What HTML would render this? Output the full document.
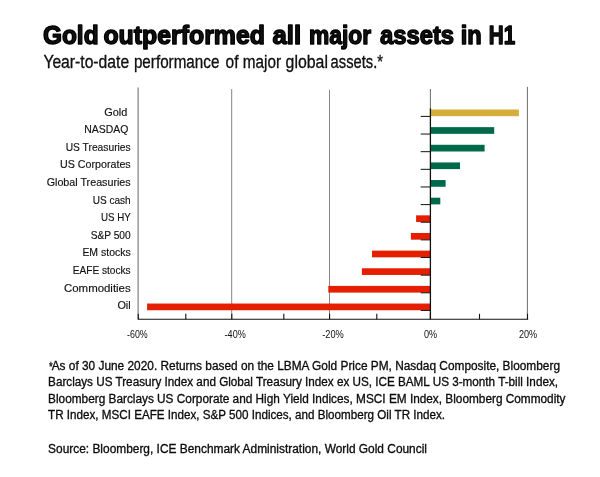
<!DOCTYPE html>
<html><head><meta charset="utf-8"><title>Gold outperformed all major assets in H1</title>
<style>
html,body{margin:0;padding:0;background:#fff;}
body{width:600px;height:477px;overflow:hidden;font-family:"Liberation Sans",sans-serif;}
svg{display:block;will-change:transform}
text{font-family:"Liberation Sans",sans-serif;fill:#111}
</style></head><body>
<svg width="600" height="477" viewBox="0 0 600 477">
<rect width="600" height="477" fill="#fff"/>

<text x="42.88" y="44.0" font-size="25.7" font-weight="bold" textLength="55.69" lengthAdjust="spacingAndGlyphs" fill="#000" stroke="#000" stroke-width="1.4" stroke-linejoin="round">Gold</text>
<text x="103.38" y="44.0" font-size="25.7" font-weight="bold" textLength="161.53" lengthAdjust="spacingAndGlyphs" fill="#000" stroke="#000" stroke-width="1.4" stroke-linejoin="round">outperformed</text>
<text x="272.45" y="44.0" font-size="25.7" font-weight="bold" textLength="28.59" lengthAdjust="spacingAndGlyphs" fill="#000" stroke="#000" stroke-width="1.4" stroke-linejoin="round">all</text>
<text x="308.99" y="44.0" font-size="25.7" font-weight="bold" textLength="62.11" lengthAdjust="spacingAndGlyphs" fill="#000" stroke="#000" stroke-width="1.4" stroke-linejoin="round">major</text>
<text x="380.0" y="44.0" font-size="25.7" font-weight="bold" textLength="74.11" lengthAdjust="spacingAndGlyphs" fill="#000" stroke="#000" stroke-width="1.4" stroke-linejoin="round">assets</text>
<text x="460.71" y="44.0" font-size="25.7" font-weight="bold" textLength="20.99" lengthAdjust="spacingAndGlyphs" fill="#000" stroke="#000" stroke-width="1.4" stroke-linejoin="round">in</text>
<text x="488.81" y="44.0" font-size="25.7" font-weight="bold" textLength="26.36" lengthAdjust="spacingAndGlyphs" fill="#000" stroke="#000" stroke-width="1.4" stroke-linejoin="round">H1</text>
<text x="43.38" y="67.5" font-size="18.5" textLength="85.74" lengthAdjust="spacingAndGlyphs" fill="#000" stroke="#000" stroke-width="0.3">Year-to-date</text>
<text x="133.88" y="67.5" font-size="18.5" textLength="85.53" lengthAdjust="spacingAndGlyphs" fill="#000" stroke="#000" stroke-width="0.3">performance</text>
<text x="225.56" y="67.5" font-size="18.5" textLength="12.93" lengthAdjust="spacingAndGlyphs" fill="#000" stroke="#000" stroke-width="0.3">of</text>
<text x="242.85" y="67.5" font-size="18.5" textLength="38.25" lengthAdjust="spacingAndGlyphs" fill="#000" stroke="#000" stroke-width="0.3">major</text>
<text x="285.59" y="67.5" font-size="18.5" textLength="42.35" lengthAdjust="spacingAndGlyphs" fill="#000" stroke="#000" stroke-width="0.3">global</text>
<text x="330.59" y="67.5" font-size="18.5" textLength="52.41" lengthAdjust="spacingAndGlyphs" fill="#000" stroke="#000" stroke-width="0.3">assets.*</text>
<line x1="138.1" y1="87.5" x2="138.1" y2="319.2" stroke="#555" stroke-width="0.9"/>
<line x1="231.7" y1="89.0" x2="231.7" y2="319.2" stroke="#777" stroke-width="0.9"/>
<line x1="329.5" y1="89.8" x2="329.5" y2="319.2" stroke="#777" stroke-width="0.9"/>
<line x1="527.4" y1="86.8" x2="527.4" y2="319.2" stroke="#5a5a5a" stroke-width="0.9"/>
<line x1="430.4" y1="89.0" x2="430.4" y2="108.5" stroke="#444" stroke-width="0.8"/>
<rect x="430.4" y="109.50" width="88.5" height="6.7" fill="#D6AE3C"/>
<rect x="430.4" y="127.14" width="63.8" height="6.7" fill="#00694A"/>
<rect x="430.4" y="144.78" width="54.2" height="6.7" fill="#00694A"/>
<rect x="430.4" y="162.42" width="29.6" height="6.7" fill="#00694A"/>
<rect x="430.4" y="180.06" width="15.2" height="6.7" fill="#00694A"/>
<rect x="430.4" y="197.70" width="9.9" height="6.7" fill="#00694A"/>
<rect x="416.1" y="215.34" width="14.3" height="6.7" fill="#E61E00"/>
<rect x="410.9" y="232.98" width="19.5" height="6.7" fill="#E61E00"/>
<rect x="372.0" y="250.62" width="58.4" height="6.7" fill="#E61E00"/>
<rect x="361.9" y="268.26" width="68.5" height="6.7" fill="#E61E00"/>
<rect x="328.3" y="285.90" width="102.1" height="6.7" fill="#E61E00"/>
<rect x="147.1" y="303.54" width="283.3" height="6.7" fill="#E61E00"/>
<line x1="430.4" y1="108.3" x2="430.4" y2="319.2" stroke="#111" stroke-width="1.3"/>
<line x1="420.7" y1="116.40" x2="430.4" y2="116.40" stroke="#111" stroke-width="1"/>
<line x1="420.7" y1="134.04" x2="430.4" y2="134.04" stroke="#111" stroke-width="1"/>
<line x1="420.7" y1="151.68" x2="430.4" y2="151.68" stroke="#111" stroke-width="1"/>
<line x1="420.7" y1="169.32" x2="430.4" y2="169.32" stroke="#111" stroke-width="1"/>
<line x1="420.7" y1="186.96" x2="430.4" y2="186.96" stroke="#111" stroke-width="1"/>
<line x1="420.7" y1="204.60" x2="430.4" y2="204.60" stroke="#111" stroke-width="1"/>
<line x1="420.7" y1="222.24" x2="430.4" y2="222.24" stroke="#111" stroke-width="1"/>
<line x1="420.7" y1="239.88" x2="430.4" y2="239.88" stroke="#111" stroke-width="1"/>
<line x1="420.7" y1="257.52" x2="430.4" y2="257.52" stroke="#111" stroke-width="1"/>
<line x1="420.7" y1="275.16" x2="430.4" y2="275.16" stroke="#111" stroke-width="1"/>
<line x1="420.7" y1="292.80" x2="430.4" y2="292.80" stroke="#111" stroke-width="1"/>
<line x1="420.7" y1="310.44" x2="430.4" y2="310.44" stroke="#111" stroke-width="1"/>
<line x1="137.8" y1="319.2" x2="528.2" y2="319.2" stroke="#111" stroke-width="1.1"/>
<line x1="138.3" y1="313.8" x2="138.3" y2="319.2" stroke="#111" stroke-width="1.1"/>
<line x1="185.8" y1="313.8" x2="185.8" y2="319.2" stroke="#111" stroke-width="1.1"/>
<line x1="231.8" y1="313.8" x2="231.8" y2="319.2" stroke="#111" stroke-width="1.1"/>
<line x1="283.8" y1="313.8" x2="283.8" y2="319.2" stroke="#111" stroke-width="1.1"/>
<line x1="329.6" y1="313.8" x2="329.6" y2="319.2" stroke="#111" stroke-width="1.1"/>
<line x1="376.8" y1="313.8" x2="376.8" y2="319.2" stroke="#111" stroke-width="1.1"/>
<line x1="430.4" y1="313.8" x2="430.4" y2="319.2" stroke="#111" stroke-width="1.1"/>
<line x1="479.5" y1="313.8" x2="479.5" y2="319.2" stroke="#111" stroke-width="1.1"/>
<line x1="527.5" y1="313.8" x2="527.5" y2="319.2" stroke="#111" stroke-width="1.1"/>
<text x="127.3" y="115.70" font-size="10.5" text-anchor="end" textLength="23" lengthAdjust="spacingAndGlyphs" fill="#111" stroke="#111" stroke-width="0.15">Gold</text>
<text x="128.3" y="133.28" font-size="10.5" text-anchor="end" textLength="44" lengthAdjust="spacingAndGlyphs" fill="#111" stroke="#111" stroke-width="0.15">NASDAQ</text>
<text x="130.7" y="150.86" font-size="10.5" text-anchor="end" textLength="65" lengthAdjust="spacingAndGlyphs" fill="#111" stroke="#111" stroke-width="0.15">US Treasuries</text>
<text x="130.7" y="168.44" font-size="10.5" text-anchor="end" textLength="70.7" lengthAdjust="spacingAndGlyphs" fill="#111" stroke="#111" stroke-width="0.15">US Corporates</text>
<text x="130.7" y="186.02" font-size="10.5" text-anchor="end" textLength="84" lengthAdjust="spacingAndGlyphs" fill="#111" stroke="#111" stroke-width="0.15">Global Treasuries</text>
<text x="130.7" y="203.60" font-size="10.5" text-anchor="end" textLength="38" lengthAdjust="spacingAndGlyphs" fill="#111" stroke="#111" stroke-width="0.15">US cash</text>
<text x="130.7" y="221.18" font-size="10.5" text-anchor="end" textLength="29.7" lengthAdjust="spacingAndGlyphs" fill="#111" stroke="#111" stroke-width="0.15">US HY</text>
<text x="130.7" y="238.76" font-size="10.5" text-anchor="end" textLength="40" lengthAdjust="spacingAndGlyphs" fill="#111" stroke="#111" stroke-width="0.15">S&amp;P 500</text>
<text x="130.7" y="256.34" font-size="10.5" text-anchor="end" textLength="48.3" lengthAdjust="spacingAndGlyphs" fill="#111" stroke="#111" stroke-width="0.15">EM stocks</text>
<text x="130.7" y="273.92" font-size="10.5" text-anchor="end" textLength="58" lengthAdjust="spacingAndGlyphs" fill="#111" stroke="#111" stroke-width="0.15">EAFE stocks</text>
<text x="130.7" y="291.50" font-size="10.5" text-anchor="end" textLength="66.7" lengthAdjust="spacingAndGlyphs" fill="#111" stroke="#111" stroke-width="0.15">Commodities</text>
<text x="130.7" y="309.08" font-size="10.5" text-anchor="end" textLength="13.3" lengthAdjust="spacingAndGlyphs" fill="#111" stroke="#111" stroke-width="0.15">Oil</text>
<text x="137.4" y="337.8" font-size="10.4" text-anchor="middle" textLength="20.7" lengthAdjust="spacingAndGlyphs" fill="#333">-60%</text>
<text x="235.2" y="337.8" font-size="10.4" text-anchor="middle" textLength="21.2" lengthAdjust="spacingAndGlyphs" fill="#333">-40%</text>
<text x="333" y="337.8" font-size="10.4" text-anchor="middle" textLength="21.6" lengthAdjust="spacingAndGlyphs" fill="#333">-20%</text>
<text x="430.5" y="337.8" font-size="10.4" text-anchor="middle" textLength="13.2" lengthAdjust="spacingAndGlyphs" fill="#333">0%</text>
<text x="528" y="337.8" font-size="10.4" text-anchor="middle" textLength="18.2" lengthAdjust="spacingAndGlyphs" fill="#333">20%</text>
<text x="48.9" y="370.6" font-size="12" textLength="3.7" lengthAdjust="spacingAndGlyphs" fill="#000" stroke="#000" stroke-width="0.3">*</text>
<text x="51.7" y="369.6" font-size="12" textLength="508.3" lengthAdjust="spacingAndGlyphs" fill="#000" stroke="#000" stroke-width="0.3">As of 30 June 2020. Returns based on the LBMA Gold Price PM, Nasdaq Composite, Bloomberg</text>
<text x="48.1" y="386.0" font-size="12" textLength="509.9" lengthAdjust="spacingAndGlyphs" fill="#000" stroke="#000" stroke-width="0.3">Barclays US Treasury Index and Global Treasury Index ex US, ICE BAML US 3-month T-bill Index,</text>
<text x="48.1" y="402.5" font-size="12" textLength="517.4" lengthAdjust="spacingAndGlyphs" fill="#000" stroke="#000" stroke-width="0.3">Bloomberg Barclays US Corporate and High Yield Indices, MSCI EM Index, Bloomberg Commodity</text>
<text x="48.1" y="419.2" font-size="12" textLength="396.9" lengthAdjust="spacingAndGlyphs" fill="#000" stroke="#000" stroke-width="0.3">TR Index, MSCI EAFE Index, S&amp;P 500 Indices, and Bloomberg Oil TR Index.</text>
<text x="48.1" y="453.1" font-size="12" textLength="378.9" lengthAdjust="spacingAndGlyphs" fill="#000" stroke="#000" stroke-width="0.3">Source: Bloomberg, ICE Benchmark Administration, World Gold Council</text>
</svg></body></html>
